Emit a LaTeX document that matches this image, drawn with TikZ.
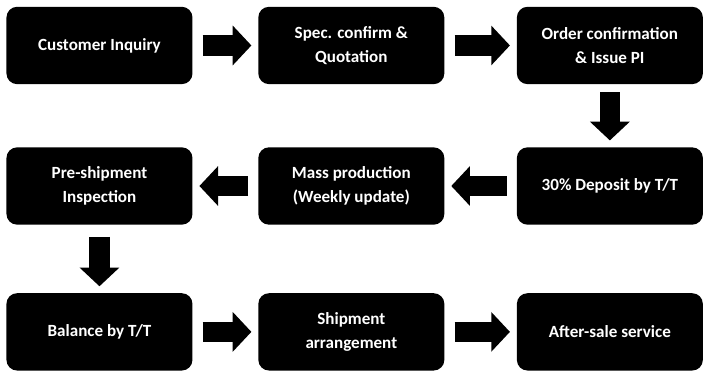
\documentclass[tikz,border=0pt]{standalone}
\usepackage{fontspec}
\setmainfont{Carlito}
\usetikzlibrary{arrows.meta, positioning}
\tikzset{
  stage/.style={
    rectangle, rounded corners=8pt, fill=black, text=white,
    minimum width=139.5pt, minimum height=58pt, align=center,
    font=\bfseries\fontsize{12.8}{18.5}\selectfont
  },
  flow/.style={
    line width=15.5pt, -{Triangle[length=14pt,width=29pt]},
    shorten <=#1, shorten >=5pt
  },
  flow/.default=7.5pt
}

\begin{document}
\begin{tikzpicture}[node distance=47pt and 49pt]

  \useasboundingbox (-74.6pt,34.1pt) rectangle (457.9pt,-248pt);

  % Row 1
  \node[stage] (inquiry) {Customer Inquiry};
  \node[stage, right=of inquiry] (quote) {Spec. confirm \&\\Quotation};
  \node[stage, right=54pt of quote] (order) {Order confirmation\\\& Issue PI};

  % Row 2
  \node[stage, below=of order] (deposit) {30\% Deposit by T/T};
  \node[stage, left=54pt of deposit] (production) {Mass production\\(Weekly update)};
  \node[stage, left=of production] (inspect) {Pre-shipment\\Inspection};

  % Row 3
  \node[stage, below=51pt of inspect] (balance) {Balance by T/T};
  \node[stage, right=of balance] (shipment) {Shipment\\arrangement};
  \node[stage, right=54pt of shipment] (aftersale) {After-sale service};

  % Arrows
  \draw[flow] (inquiry) -- (quote);
  \draw[flow] (quote) -- (order);
  \draw[flow=6pt] (order) -- (deposit);
  \draw[flow] (deposit) -- (production);
  \draw[flow] (production) -- (inspect);
  \draw[flow=9pt] (inspect) -- (balance);
  \draw[flow] (balance) -- (shipment);
  \draw[flow] (shipment) -- (aftersale);

\end{tikzpicture}
\end{document}
